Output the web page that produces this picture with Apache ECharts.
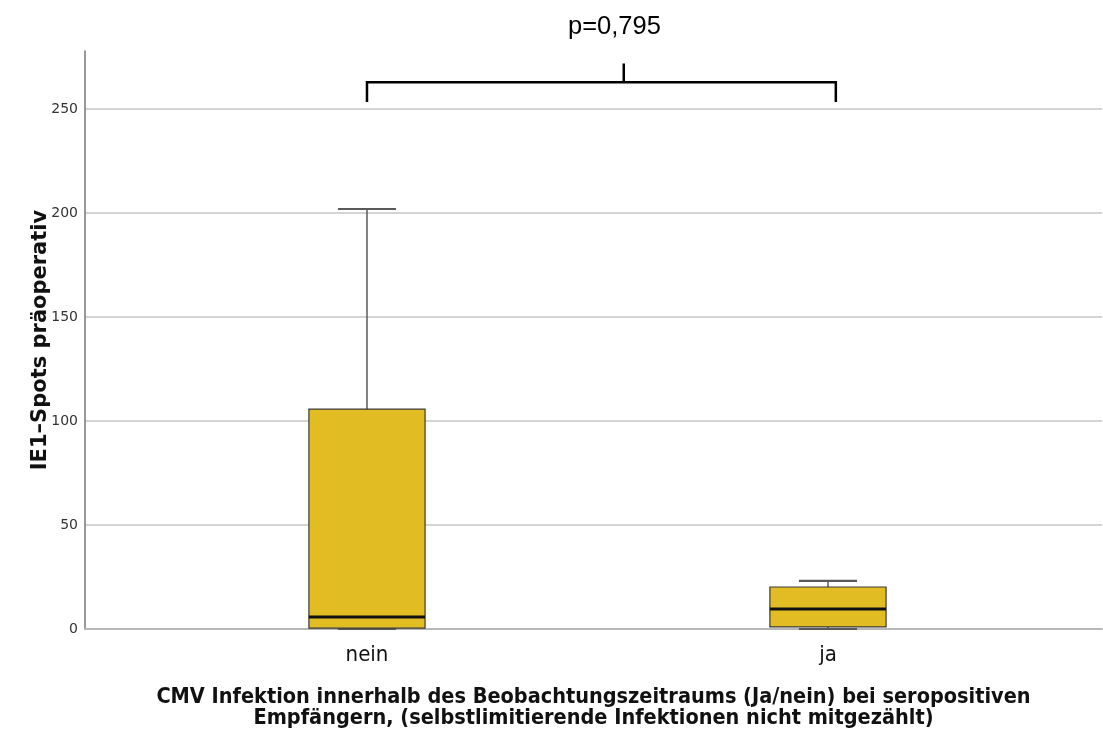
<!DOCTYPE html>
<html>
<head>
<meta charset="utf-8">
<script src="https://cdn.jsdelivr.net/npm/echarts@6/dist/echarts.min.js"></script>
<style>
  html, body { margin: 0; padding: 0; background: #ffffff; }
  #chart { width: 1103px; height: 735px; }
</style>
</head>
<body>
<div id="chart"></div>
<script>
// Groups on the x axis
const categories = ['nein', 'ja'];
// Five-number summaries per group (IE1 spots)
const whiskerLow = [0, 0];
const quartile1 = [0.4, 1];
const medians = [5.8, 9.6];
const quartile3 = [105.8, 20.2];
const whiskerHigh = [202, 23.1];
// y-axis tick values
const yTicks = [0, 50, 100, 150, 200, 250];
// Significance annotation
const pValueText = 'p=0,795';

const boxData = categories.map((c, i) => [
  i, whiskerLow[i], quartile1[i], medians[i], quartile3[i], whiskerHigh[i]
]);

// Bracket between the groups, in data units
const bracket = { x0: 0, x1: 1.017, xMid: 0.557, yFoot: 253.5, yBar: 263, yTop: 272 };

const chart = echarts.init(document.getElementById('chart'), null, { renderer: 'canvas' });

const boxFill = '#e1bc22';
const boxEdge = '#3a3a3a';
const whiskerColor = '#5a5a5a';

function renderBox(params, api) {
  const x = api.value(0);
  const lo = api.coord([x, api.value(1)]);
  const b1 = api.coord([x, api.value(2)]);
  const md = api.coord([x, api.value(3)]);
  const b3 = api.coord([x, api.value(4)]);
  const hi = api.coord([x, api.value(5)]);
  const unit = api.size([1, 0])[0];
  const half = unit * 0.126;
  const cap = half / 2;
  const cx = md[0];
  const wStyle = { stroke: whiskerColor, lineWidth: 1.5 };
  return {
    type: 'group',
    children: [
      { type: 'line', shape: { x1: cx, y1: hi[1], x2: cx, y2: b3[1] }, style: wStyle },
      { type: 'line', shape: { x1: cx, y1: lo[1], x2: cx, y2: b1[1] }, style: wStyle },
      { type: 'line', shape: { x1: cx - cap, y1: hi[1], x2: cx + cap, y2: hi[1] }, style: { stroke: whiskerColor, lineWidth: 2.2 } },
      { type: 'line', shape: { x1: cx - cap, y1: lo[1], x2: cx + cap, y2: lo[1] }, style: { stroke: whiskerColor, lineWidth: 2.2 } },
      { type: 'rect', shape: { x: cx - half, y: b3[1], width: half * 2, height: b1[1] - b3[1] },
        style: { fill: boxFill, stroke: boxEdge, lineWidth: 1.2 } },
      { type: 'line', shape: { x1: cx - half, y1: md[1], x2: cx + half, y2: md[1] },
        style: { stroke: '#111111', lineWidth: 3 } }
    ]
  };
}

function renderBracket(params, api) {
  const a = api.coord([bracket.x0, bracket.yFoot]);
  const b = api.coord([bracket.x0, bracket.yBar]);
  const c = api.coord([bracket.x1, bracket.yBar]);
  const d = api.coord([bracket.x1, bracket.yFoot]);
  const m1 = api.coord([bracket.xMid, bracket.yBar]);
  const m2 = api.coord([bracket.xMid, bracket.yTop]);
  const st = { stroke: '#000000', lineWidth: 2.5, fill: null };
  return {
    type: 'group',
    children: [
      { type: 'polyline', shape: { points: [a, b, c, d] }, style: st },
      { type: 'line', shape: { x1: m1[0], y1: m1[1], x2: m2[0], y2: m2[1] }, style: st }
    ]
  };
}

const option = {
  backgroundColor: '#ffffff',
  animation: false,
  title: {
    text: pValueText,
    left: 563,
    top: 9,
    textStyle: { fontFamily: 'Liberation Sans, Arial, sans-serif', fontSize: 25.5, fontWeight: 'normal', color: '#000000' }
  },
  grid: { left: 85, right: 1, top: 51, bottom: 106, containLabel: false },
  xAxis: {
    type: 'value',
    min: -0.6117,
    max: 1.5944,
    name: 'CMV Infektion innerhalb des Beobachtungszeitraums (Ja/nein) bei seropositiven\nEmpfängern, (selbstlimitierende Infektionen nicht mitgezählt)',
    nameLocation: 'middle',
    nameGap: 58,
    nameMoveOverlap: false,
    nameTextStyle: {
      fontFamily: 'DejaVu Sans Condensed, Liberation Sans Narrow, sans-serif',
      fontWeight: 'bold', fontSize: 21.5, color: '#111111', lineHeight: 21, align: 'center'
    },
    axisLine: { show: true, onZero: false, lineStyle: { color: '#b8b8b8', width: 2 } },
    axisTick: { show: false },
    splitLine: { show: false },
    axisLabel: {
      customValues: [0, 1],
      formatter: v => categories[Math.round(v)],
      fontFamily: 'DejaVu Sans Condensed, Liberation Sans Narrow, sans-serif',
      fontSize: 22, color: '#111111', margin: 15
    }
  },
  yAxis: {
    type: 'value',
    min: 0,
    max: 278,
    interval: 50,
    name: 'IE1–Spots präoperativ',
    nameLocation: 'middle',
    nameGap: 34,
    nameMoveOverlap: false,
    nameTextStyle: { fontFamily: 'DejaVu Sans, sans-serif', fontWeight: 'bold', fontSize: 21, color: '#111111' },
    axisLine: { show: true, onZero: false, lineStyle: { color: '#777777', width: 1.5 } },
    axisTick: { show: false },
    axisLabel: {
      customValues: yTicks,
      fontFamily: 'DejaVu Sans, sans-serif', fontSize: 14, color: '#333333', margin: 7
    },
    splitLine: { show: true, showMaxLine: false, lineStyle: { color: '#d4d4d4', width: 2 } }
  },
  series: [
    {
      type: 'custom',
      renderItem: renderBox,
      encode: { x: 0, y: [1, 2, 3, 4, 5] },
      data: boxData,
      z: 3
    },
    {
      type: 'custom',
      renderItem: renderBracket,
      data: [[0]],
      clip: false,
      z: 4
    }
  ]
};

chart.setOption(option);
</script>
</body>
</html>
